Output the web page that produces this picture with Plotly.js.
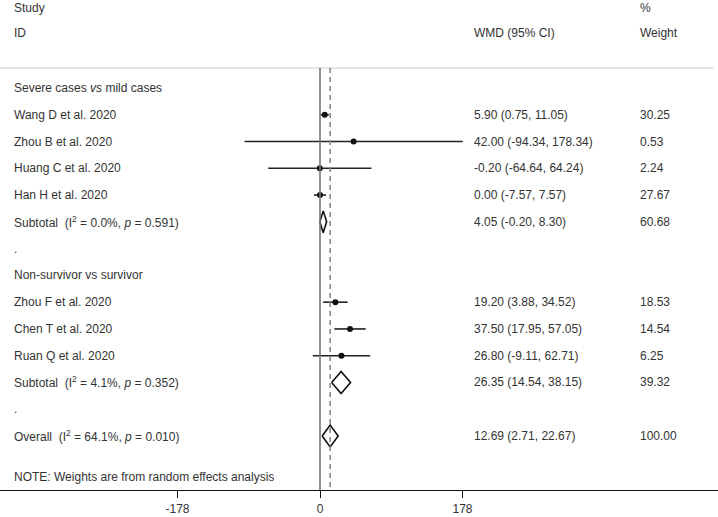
<!DOCTYPE html>
<html>
<head>
<meta charset="utf-8">
<script src="https://cdn.plot.ly/plotly-3.0.1.min.js"></script>
<style>html,body{margin:0;padding:0;background:#fff;}#chart{width:718px;height:517px;}</style>
</head>
<body>
<div id="chart"></div>
<script>
// ---- data ----
const groupLabels = ['Severe cases <i>vs</i> mild cases', 'Non-survivor vs survivor'];

const group1Studies = ['Wang D et al. 2020', 'Zhou B et al. 2020', 'Huang C et al. 2020', 'Han H et al. 2020'];
const group1Est = [5.90, 42.00, -0.20, 0.00];
const group1Lo = [0.75, -94.34, -64.64, -7.57];
const group1Hi = [11.05, 178.34, 64.24, 7.57];
const group1Weight = [30.25, 0.53, 2.24, 27.67];

const group2Studies = ['Zhou F et al. 2020', 'Chen T et al. 2020', 'Ruan Q et al. 2020'];
const group2Est = [19.20, 37.50, 26.80];
const group2Lo = [3.88, 17.95, -9.11];
const group2Hi = [34.52, 57.05, 62.71];
const group2Weight = [18.53, 14.54, 6.25];

const subtotalEst = [4.05, 26.35];
const subtotalLo = [-0.20, 14.54];
const subtotalHi = [8.30, 38.15];
const subtotalWeight = [60.68, 39.32];
const subtotalI2 = ['0.0', '4.1'];
const subtotalP = ['0.591', '0.352'];

const overallEst = 12.69;
const overallLo = 2.71;
const overallHi = 22.67;
const overallWeight = 100.00;
const overallI2 = '64.1';
const overallP = '0.010';

const tickVals = [-178, 0, 178];
const tickLabels = ['-178', '0', '178'];

// ---- layout constants ----
const ROW_PX = 26.77, FIRST_ROW_PX = 88, PLOT_BOTTOM_PX = 490, W = 718;
const yOf = px => (px - FIRST_ROW_PX) / ROW_PX;
const colLeft = 12 / W, colWMD = 472 / W, colWeight = 638 / W;
const textColor = '#333';
const fontFam = 'Liberation Sans, Arial, sans-serif';

const groups = [
  {studies: group1Studies, est: group1Est, lo: group1Lo, hi: group1Hi, w: group1Weight},
  {studies: group2Studies, est: group2Est, lo: group2Lo, hi: group2Hi, w: group2Weight}
];

const traces = [];
const annotations = [];
const f2 = v => v.toFixed(2);
const ciText = (e, l, h) => `${f2(e)} (${f2(l)}, ${f2(h)})`;
function addText(x, y, text) {
  annotations.push({xref: 'paper', yref: 'y', x: x, y: y, text: text, showarrow: false,
    xanchor: 'left', yanchor: 'middle', font: {family: fontFam, size: 12, color: textColor}});
}
function addDiamond(row, e, l, h) {
  const hh = 0.41;
  traces.push({type: 'scatter', mode: 'lines', x: [l, e, h, e, l], y: [row, row - hh, row, row + hh, row],
    line: {color: '#111', width: 1.6}, hoverinfo: 'skip', showlegend: false});
}

let row = 0;
const ptX = [], ptY = [];
groups.forEach((g, gi) => {
  addText(colLeft, row, groupLabels[gi]);
  row++;
  g.studies.forEach((s, i) => {
    addText(colLeft, row, s);
    addText(colWMD, row, ciText(g.est[i], g.lo[i], g.hi[i]));
    addText(colWeight, row, f2(g.w[i]));
    traces.push({type: 'scatter', mode: 'lines', x: [g.lo[i], g.hi[i]], y: [row, row],
      line: {color: '#222', width: 1.6}, hoverinfo: 'skip', showlegend: false});
    ptX.push(g.est[i]); ptY.push(row);
    row++;
  });
  addText(colLeft, row, `Subtotal\u00a0 (I<sup>2</sup> = ${subtotalI2[gi]}%, <i>p</i> = ${subtotalP[gi]})`);
  addText(colWMD, row, ciText(subtotalEst[gi], subtotalLo[gi], subtotalHi[gi]));
  addText(colWeight, row, f2(subtotalWeight[gi]));
  addDiamond(row, subtotalEst[gi], subtotalLo[gi], subtotalHi[gi]);
  row++;
  addText(colLeft, row, '.');
  row++;
});
row--; // overall sits right after the second "."
row++;
addText(colLeft, row, `Overall\u00a0 (I<sup>2</sup> = ${overallI2}%, <i>p</i> = ${overallP})`);
addText(colWMD, row, ciText(overallEst, overallLo, overallHi));
addText(colWeight, row, f2(overallWeight));
addDiamond(row, overallEst, overallLo, overallHi);

traces.push({type: 'scatter', mode: 'markers', x: ptX, y: ptY,
  marker: {color: '#111', size: 6, symbol: 'circle'}, hoverinfo: 'skip', showlegend: false});

// headers
addText(colLeft, yOf(8), 'Study');
addText(colLeft, yOf(33), 'ID');
addText(colWMD, yOf(33), 'WMD (95% CI)');
addText(colWeight, yOf(8), '%');
addText(colWeight, yOf(33), 'Weight');
addText(colLeft, yOf(477), 'NOTE: Weights are from random effects analysis');

const yTop = yOf(0), yBottom = yOf(PLOT_BOTTOM_PX), yHeader = yOf(68);
const pxPerUnit = 142.5 / 178, zeroPx = 320;
const xMin = -zeroPx / pxPerUnit, xMax = (W - zeroPx) / pxPerUnit;

const shapes = [
  {type: 'line', xref: 'paper', yref: 'y', x0: 0, x1: 0.993, y0: yHeader, y1: yHeader,
    line: {color: '#c8c8c8', width: 1}},
  {type: 'line', xref: 'x', yref: 'y', x0: 0, x1: 0, y0: yHeader, y1: yBottom,
    line: {color: '#777', width: 1.6}},
  {type: 'line', xref: 'x', yref: 'y', x0: overallEst, x1: overallEst, y0: yHeader, y1: yBottom,
    line: {color: '#888', width: 1.6, dash: '5px,4px'}}
];

const layout = {
  width: 718, height: 517,
  margin: {l: 0, r: 0, t: 0, b: 517 - PLOT_BOTTOM_PX},
  paper_bgcolor: '#fff', plot_bgcolor: '#fff',
  showlegend: false,
  xaxis: {range: [xMin, xMax], showgrid: false, zeroline: false, showline: true,
    linecolor: '#111', linewidth: 1.2, ticks: 'outside', ticklen: 7, tickwidth: 1, tickcolor: '#111',
    tickvals: tickVals, ticktext: tickLabels, fixedrange: true,
    tickfont: {family: fontFam, size: 12, color: textColor}},
  yaxis: {range: [yBottom, yTop], visible: false, showgrid: false, zeroline: false, fixedrange: true},
  shapes: shapes,
  annotations: annotations
};

Plotly.newPlot('chart', traces, layout, {displayModeBar: false, staticPlot: true});
</script>
</body>
</html>
